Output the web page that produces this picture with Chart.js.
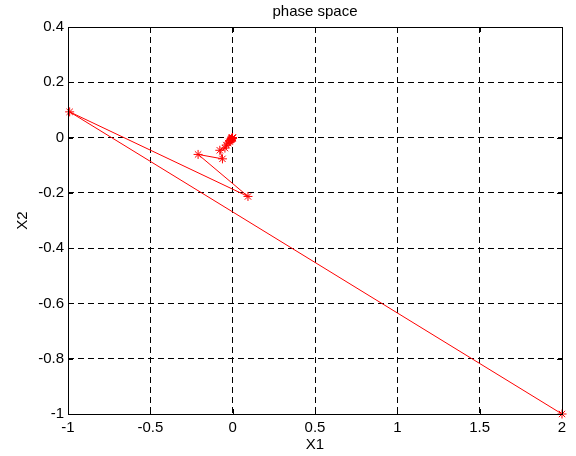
<!DOCTYPE html>
<html>
<head>
<meta charset="utf-8">
<title>phase space</title>
<script src="https://cdn.jsdelivr.net/npm/chart.js@4/dist/chart.umd.min.js"></script>
<style>
    html, body { margin: 0; padding: 0; background: #fff; }
    #wrap { width: 576px; height: 456px; }
</style>
</head>
<body>
<div id="wrap"><canvas id="phaseChart" width="576" height="456"></canvas></div>
<script>
// State trajectory (X1, X2)
var x1Values = [2, -0.99, 0.093, -0.21, -0.062, -0.078, -0.047, -0.038, -0.027, -0.020, -0.015, -0.011, -0.008, -0.006, -0.0044, -0.0032, -0.0024, -0.0018, -0.0013, -0.001, -0.0007];
var x2Values = [-1, 0.093, -0.213, -0.061, -0.077, -0.046, -0.038, -0.027, -0.020, -0.015, -0.011, -0.008, -0.006, -0.0044, -0.0032, -0.0024, -0.0018, -0.0013, -0.001, -0.0007, -0.0005];
var xTicks = [-1, -0.5, 0, 0.5, 1, 1.5, 2];
var yTicks = [-1, -0.8, -0.6, -0.4, -0.2, 0, 0.2, 0.4];

var FONT = 'Liberation Sans, Arial, sans-serif';

var points = x1Values.map(function (v, i) {
    return { x: v, y: x2Values[i] };
});

function fmt(v) {
    return String(Number(v.toFixed(2)));
}

// Box around the plot area and MATLAB style inward ticks
var boxPlugin = {
    id: 'boxPlugin',
    afterDatasetsDraw: function (chart) {
        var ctx = chart.ctx;
        var a = chart.chartArea;
        var xs = chart.scales.x;
        var ys = chart.scales.y;
        ctx.save();
        ctx.strokeStyle = '#000';
        ctx.lineWidth = 1;
        ctx.setLineDash([]);
        ctx.beginPath();
        xTicks.forEach(function (t) {
            var px = Math.round(xs.getPixelForValue(t)) + 0.5;
            ctx.moveTo(px, a.bottom); ctx.lineTo(px, a.bottom - 5);
            ctx.moveTo(px, a.top); ctx.lineTo(px, a.top + 5);
        });
        yTicks.forEach(function (t) {
            var py = Math.round(ys.getPixelForValue(t)) + 0.5;
            ctx.moveTo(a.left, py); ctx.lineTo(a.left + 5, py);
            ctx.moveTo(a.right, py); ctx.lineTo(a.right - 5, py);
        });
        ctx.stroke();
        ctx.strokeRect(Math.round(a.left) + 0.5, Math.round(a.top) + 0.5,
            Math.round(a.right - a.left), Math.round(a.bottom - a.top));
        ctx.restore();
    }
};

var ctx = document.getElementById('phaseChart').getContext('2d');
var chart = new Chart(ctx, {
    type: 'scatter',
    data: {
        datasets: [{
            label: 'X',
            data: points,
            showLine: true,
            borderColor: '#ff0000',
            borderWidth: 1,
            pointStyle: 'star',
            pointRadius: 4.5,
            pointBorderColor: '#ff0000',
            pointBorderWidth: 1,
            pointBackgroundColor: '#ff0000',
            clip: false,
            tension: 0
        }]
    },
    options: {
        responsive: false,
        animation: false,
        devicePixelRatio: 1,
        layout: { padding: { top: 27, right: 14, bottom: 0, left: 0 } },
        plugins: {
            legend: { display: false },
            tooltip: { enabled: false },
            title: { display: false }
        },
        scales: {
            x: {
                type: 'linear',
                min: -1,
                max: 2,
                afterFit: function (scale) { scale.height = 42; },
                afterBuildTicks: function (scale) {
                    scale.ticks = xTicks.map(function (v) { return { value: v }; });
                },
                ticks: {
                    color: '#000',
                    padding: 5,
                    maxRotation: 0,
                    autoSkip: false,
                    font: { family: FONT, size: 15 },
                    callback: function (v) { return fmt(v); }
                },
                grid: {
                    color: '#000',
                    lineWidth: 1,
                    drawTicks: false
                },
                border: { display: false, dash: [6, 4] },
                title: {
                    display: true,
                    text: 'X1',
                    color: '#000',
                    padding: { top: 0, bottom: 2 },
                    font: { family: FONT, size: 15 }
                }
            },
            y: {
                type: 'linear',
                min: -1,
                max: 0.4,
                afterFit: function (scale) { scale.width = 68; },
                afterBuildTicks: function (scale) {
                    scale.ticks = yTicks.map(function (v) { return { value: v }; });
                },
                ticks: {
                    color: '#000',
                    padding: 4,
                    autoSkip: false,
                    font: { family: FONT, size: 15 },
                    callback: function (v) { return fmt(v); }
                },
                grid: {
                    color: '#000',
                    lineWidth: 1,
                    drawTicks: false
                },
                border: { display: false, dash: [6, 4] },
                title: {
                    display: true,
                    text: 'X2',
                    color: '#000',
                    padding: { top: 14, bottom: 0 },
                    font: { family: FONT, size: 15 }
                }
            }
        }
    },
    plugins: [boxPlugin, {
        id: 'chartTitle',
        afterDraw: function (chart) {
            var c = chart.ctx;
            var a = chart.chartArea;
            c.save();
            c.fillStyle = '#000';
            c.font = '15px "Liberation Sans", Arial, sans-serif';
            c.textAlign = 'center';
            c.textBaseline = 'middle';
            c.fillText('phase space', (a.left + a.right) / 2, 12);
            c.restore();
        }
    }]
});
</script>
</body>
</html>
